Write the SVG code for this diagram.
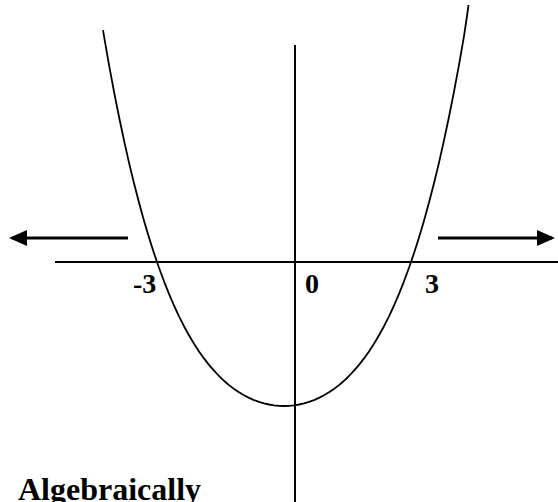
<svg xmlns="http://www.w3.org/2000/svg" width="558" height="502" viewBox="0 0 558 502">
<style>
.ax{stroke:#000;stroke-width:2;fill:none}
.arr{stroke:#000;stroke-width:3;fill:none}
.crv{stroke:#000;stroke-width:1.8;fill:none;stroke-linejoin:round}
.lbl{font-family:"Liberation Serif",serif;font-weight:bold;fill:#000}
</style>
<defs>
<marker id="ah" markerWidth="6" markerHeight="6" refX="5" refY="3" orient="auto" markerUnits="strokeWidth">
<path d="M0,0.3 L6,3 L0,5.7 Z" fill="#000"/>
</marker>
</defs>
<rect width="558" height="502" fill="#fff"/>
<g id="connectors">
<line class="ax" x1="55" y1="262" x2="558" y2="262"/>
<line class="ax" x1="295" y1="45" x2="295" y2="502"/>
<line class="arr" x1="128" y1="238" x2="12" y2="238" marker-end="url(#ah)"/>
<line class="arr" x1="438" y1="238" x2="552" y2="238" marker-end="url(#ah)"/>
</g>
<g id="parabola">
<polyline class="crv" points="103,30.2 104,36.1 109,64.8 114,91.6 119,116.8 124,140.4 129,162.6 134,183.3 139,202.6 144,220.7 149,237.5 154,253.2 159,267.8 164,281.3 169,293.9 174,305.5 179,316.3 184,326.2 189,335.3 194,343.7 199,351.4 204,358.4 209,364.9 214,370.7 219,376.0 224,380.8 229,385.1 234,388.9 239,392.3 244,395.3 249,397.9 254,400.1 259,401.9 264,403.4 269,404.5 274,405.4 279,405.8 284,406 289,405.8 294,405.4 299,404.5 304,403.4 309,401.9 314,400.1 319,397.9 324,395.3 329,392.3 334,388.9 339,385.1 344,380.8 349,376.0 354,370.7 359,364.9 364,358.4 369,351.4 374,343.7 379,335.3 384,326.2 389,316.3 394,305.5 399,293.9 404,281.3 409,267.8 414,253.2 419,237.5 424,220.7 429,202.6 434,183.3 439,162.6 444,140.4 449,116.8 454,91.6 459,64.8 464,36.1 467,16 468.5,5"/>
</g>
<g id="labels">
<text class="lbl" x="133" y="293" font-size="28">-3</text>
<text class="lbl" x="305" y="293" font-size="28">0</text>
<text class="lbl" x="425" y="293" font-size="28">3</text>
<text class="lbl" x="18" y="500" font-size="32">Algebraically</text>
</g>
</svg>
